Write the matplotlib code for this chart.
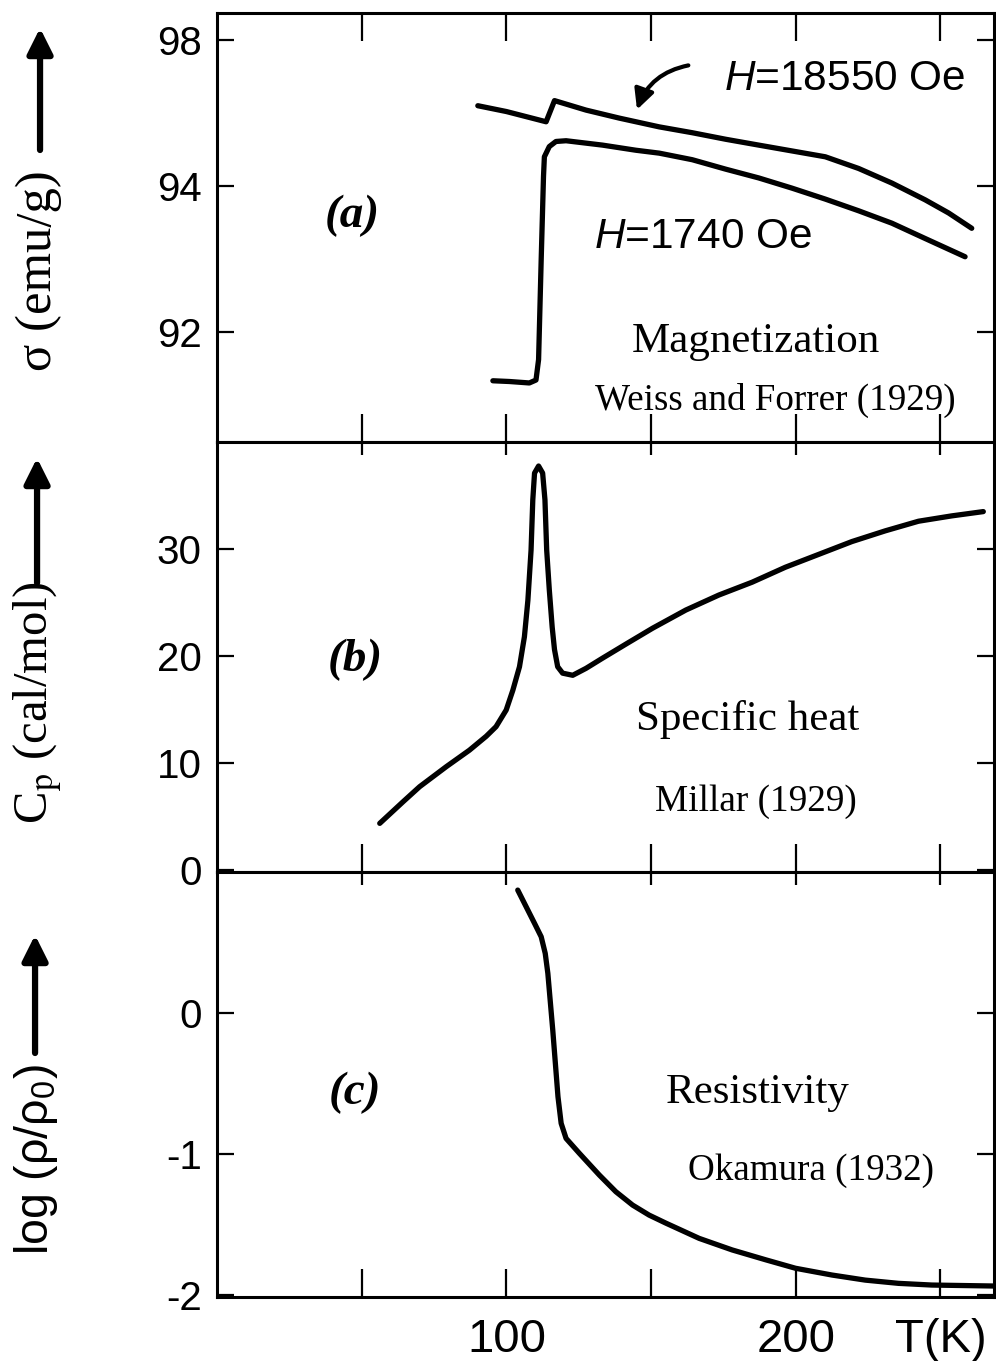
import matplotlib
matplotlib.use("Agg")
import matplotlib.pyplot as plt

plt.rcParams['font.family'] = ['Liberation Sans', 'DejaVu Sans']
plt.rcParams['mathtext.fontset'] = 'custom'
plt.rcParams['mathtext.rm'] = 'Liberation Sans'
plt.rcParams['mathtext.it'] = 'Liberation Sans:italic'
plt.rcParams['axes.unicode_minus'] = False

SERIF = ['Liberation Serif', 'DejaVu Serif']

# Magnetization (Weiss and Forrer 1929)
mag_high_T = [90.1, 100.0, 113.7, 116.6, 127.5, 139.0, 152.8, 164.2, 175.8,
              187.2, 198.7, 210.2, 221.7, 233.2, 244.7, 252.8, 260.8]
mag_high = [95.10, 95.02, 94.88, 95.17, 95.04, 94.93, 94.81, 94.73, 94.64,
            94.56, 94.48, 94.40, 94.24, 94.04, 93.81, 93.63, 93.42]
mag_low_T = [95.3, 101.0, 107.9, 110.2, 111.1, 112.0, 112.8, 113.1, 114.8,
             117.1, 120.6, 133.2, 144.7, 152.8, 164.2, 175.8, 187.2, 198.7,
             210.2, 221.7, 233.2, 244.7, 258.5]
mag_low = [91.33, 91.32, 91.30, 91.34, 91.62, 92.99, 94.13, 94.40, 94.54,
           94.61, 94.62, 94.56, 94.49, 94.45, 94.36, 94.23, 94.11, 93.97,
           93.82, 93.66, 93.49, 93.28, 93.03]

# Specific heat (Millar 1929)
cp_T = [56.2, 64.3, 70.0, 79.2, 87.2, 93.0, 96.4, 99.9, 102.2, 104.5,
        106.2, 107.4, 108.5, 109.1, 109.7, 111.1, 112.5, 113.3, 113.9, 114.8,
        115.8, 116.6, 117.7, 119.4, 122.9, 127.5, 133.2, 141.8, 150.5, 162.0,
        173.4, 184.9, 196.4, 207.9, 219.4, 230.9, 242.4, 253.9, 264.8]
cp = [4.36, 6.39, 7.79, 9.66, 11.2, 12.5, 13.4, 14.95, 16.8, 19.0,
      21.8, 25.2, 29.9, 34.6, 37.1, 37.76, 37.1, 34.6, 29.9, 26.2,
      22.7, 20.6, 19.0, 18.4, 18.2, 18.85, 19.8, 21.2, 22.6, 24.3,
      25.7, 26.9, 28.3, 29.5, 30.7, 31.7, 32.6, 33.1, 33.5]

# Resistivity (Okamura 1932)
res_T = [103.9, 106.8, 109.7, 112.0, 113.4, 114.3, 115.1, 116.0, 116.9,
         117.8, 118.9, 120.6, 125.2, 132.1, 137.8, 143.6, 149.3, 155.1,
         166.6, 178.0, 189.6, 199.9, 212.5, 224.0, 235.5, 247.0, 268.8]
res = [0.872, 0.754, 0.636, 0.541, 0.423, 0.282, 0.092, -0.121, -0.357,
       -0.593, -0.782, -0.889, -0.995, -1.149, -1.267, -1.362, -1.433, -1.49,
       -1.598, -1.68, -1.75, -1.81, -1.858, -1.894, -1.917, -1.929, -1.936]

x_ticks = [50, 100, 150, 200, 250]
x_ticklabels = ['', '100', '', '200', 'T(K)']
sig_ticks = [92, 94, 96]
sig_ticklabels = ['92', '94', '98']
cp_ticks = [0, 10, 20, 30]
res_ticks = [-2, -1, 0]

fig, axes = plt.subplots(3, 1, figsize=(9.96, 13.61), dpi=100, sharex=True,
                         gridspec_kw={'height_ratios': [429, 430, 425]})
fig.subplots_adjust(left=0.218, right=0.998, top=0.9904, bottom=0.047, hspace=0)
ax1, ax2, ax3 = axes

lw = 3.8
line_kw = dict(color='k', lw=lw, solid_joinstyle='round', solid_capstyle='round')
ax1.plot(mag_high_T, mag_high, **line_kw)
ax1.plot(mag_low_T, mag_low, **line_kw)
ax2.plot(cp_T, cp, **line_kw)
ax3.plot(res_T, res, **line_kw)

ax1.set_ylim(90.49, 96.37)
ax2.set_ylim(-0.19, 40.0)
ax3.set_ylim(-2.014, 1.0)
ax3.set_xlim(0, 268.5)

ax1.set_yticks(sig_ticks)
ax1.set_yticklabels(sig_ticklabels)
ax2.set_yticks(cp_ticks)
ax3.set_yticks(res_ticks)
ax3.set_xticks(x_ticks)
ax3.set_xticklabels(x_ticklabels)

for ax in axes:
    for sp in ax.spines.values():
        sp.set_linewidth(2.2)
    ax.tick_params(axis='y', direction='in', left=True, right=True,
                   length=12, width=1.6, labelsize=29, pad=11)
    ax.tick_params(axis='x', direction='in', top=True, bottom=True,
                   length=20, width=1.6, labelsize=34, pad=15)
for ax in (ax2, ax3):
    for t in ax.xaxis.get_major_ticks():
        t.tick2line.set_markersize(9)

# panel (a)
ax1.text(46.6, 93.59, '(a)', family=SERIF, style='italic', weight='bold',
         fontsize=34, ha='center', va='center')
ax1.text(175.2, 95.32, r'$H$=18550 Oe', fontsize=30.5, ha='left', va='baseline')
ax1.text(130.3, 93.15, r'$H$=1740 Oe', fontsize=30.5, ha='left', va='baseline')
ax1.text(186.2, 91.73, 'Magnetization', family=SERIF, fontsize=31,
         ha='center', va='baseline')
ax1.text(192.8, 90.93, 'Weiss and Forrer (1929)', family=SERIF, fontsize=26.7,
         ha='center', va='baseline')
ax1.annotate('', xy=(144.8, 95.01), xytext=(163.8, 95.66),
             arrowprops=dict(arrowstyle='-|>', connectionstyle='arc3,rad=0.3',
                             lw=3, mutation_scale=30, color='k'))

# panel (b)
ax2.text(47.6, 19.6, '(b)', family=SERIF, style='italic', weight='bold',
         fontsize=34, ha='center', va='center')
ax2.text(183.3, 13.1, 'Specific heat', family=SERIF, fontsize=31,
         ha='center', va='baseline')
ax2.text(186.2, 5.55, 'Millar (1929)', family=SERIF, fontsize=26.8,
         ha='center', va='baseline')

# panel (c)
ax3.text(47.6, -0.567, '(c)', family=SERIF, style='italic', weight='bold',
         fontsize=34, ha='center', va='center')
ax3.text(186.9, -0.64, 'Resistivity', family=SERIF, fontsize=31,
         ha='center', va='baseline')
ax3.text(205.3, -1.184, 'Okamura (1932)', family=SERIF, fontsize=26.7,
         ha='center', va='baseline')

# rotated y labels with upward arrows
H = 1361.0
def fy(py):
    return 1 - py / H

fig.text(0.039, fy(271), 'σ (emu/g)', family=SERIF, fontsize=36.5,
         rotation=90, ha='center', va='center')
fig.text(0.038, fy(703), r'C$_\mathrm{p}$ (cal/mol)', family=SERIF, fontsize=35,
         rotation=90, ha='center', va='center', math_fontfamily='stix')
fig.text(0.036, fy(1160), r'log (ρ/ρ$_0$)', fontsize=33.5,
         rotation=90, ha='center', va='center')

arrow_kw = dict(arrowstyle='-|>', lw=4.5, mutation_scale=38, color='k',
                shrinkA=0, shrinkB=0)
for x, y0, y1 in [(0.0402, 150, 28), (0.0372, 583, 458), (0.0352, 1053, 935)]:
    fig.add_artist(matplotlib.patches.FancyArrowPatch(
        (x, fy(y0)), (x, fy(y1)), transform=fig.transFigure, **arrow_kw))

fig.savefig('out.png', dpi=100)
plt.close(fig)
